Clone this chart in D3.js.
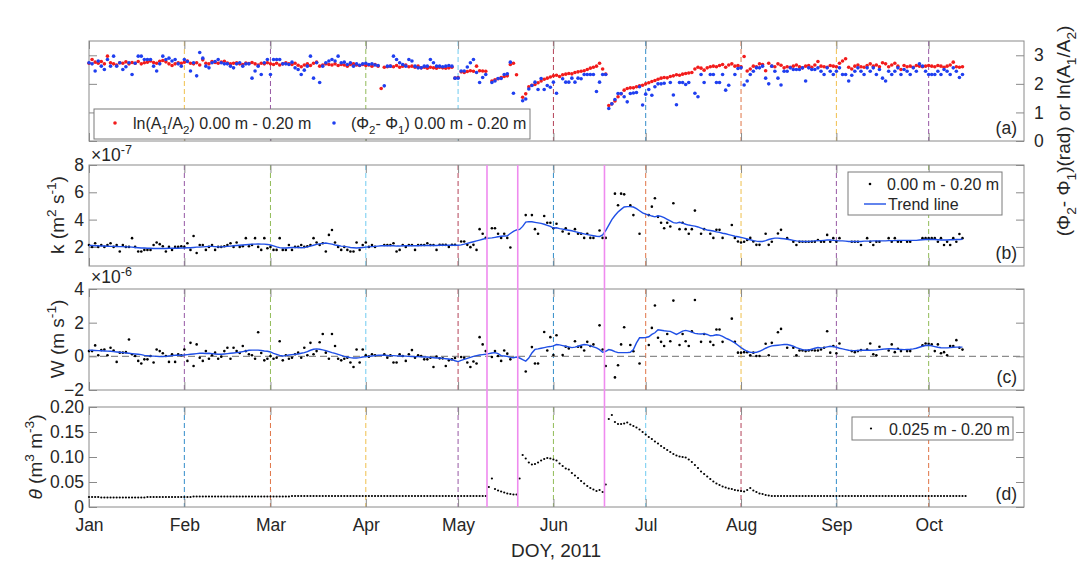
<!DOCTYPE html>
<html><head><meta charset="utf-8">
<script src="https://cdn.jsdelivr.net/npm/d3@7"></script>
<style>
body{margin:0;background:#fff}
text{font-family:"Liberation Sans",Arial,Helvetica,sans-serif;fill:#262626}
</style>
</head><body>
<svg id="chart" width="1084" height="561"></svg>
<script>
// ---------- DATA (one value per day, DOY 1 .. 286; null = no data) ----------
const lnA = [
 2.72,2.85,2.76,2.72,2.78,2.70,2.97,2.74,2.70,2.66,2.74,2.72,2.77,2.70,2.75,2.72,2.78,2.70,2.74,2.76,2.80,2.75,2.72,2.79,2.82,2.77,2.70,2.64,2.70,2.74,2.72,
 2.76,2.80,2.72,2.70,2.74,2.66,2.84,2.72,2.70,2.78,2.75,2.72,2.76,2.79,2.73,2.70,2.72,2.74,2.70,2.68,2.73,2.71,2.75,2.70,2.66,2.72,2.70,2.74,
 2.70,2.68,2.72,2.66,2.70,2.74,2.70,2.68,2.72,2.65,2.60,2.66,2.70,2.64,2.72,2.76,2.62,2.66,2.70,2.68,2.66,2.70,2.64,2.68,2.66,2.62,2.68,2.70,2.66,2.64,2.68,
 2.64,2.66,2.62,2.68,2.62,1.84,2.58,2.60,2.62,2.60,2.64,2.58,2.62,2.66,2.60,2.62,2.58,2.62,2.56,2.58,2.55,2.58,2.56,2.55,2.58,2.56,2.55,2.56,2.58,2.20,
 2.22,2.42,2.40,2.43,2.46,2.44,2.62,2.46,2.45,2.44,null,2.10,2.14,2.18,2.22,2.26,2.28,2.68,2.72,2.32,null,1.53,1.65,1.90,1.95,1.98,2.04,2.10,2.16,2.20,2.24,
 2.28,2.30,2.26,2.32,2.34,2.36,2.35,2.40,2.42,2.44,2.46,2.50,2.55,2.58,2.62,2.72,2.52,2.34,1.24,1.30,1.40,1.55,1.65,1.78,1.84,1.86,1.86,1.90,1.93,1.95,
 2.00,2.04,2.08,2.12,2.16,2.20,2.22,2.21,2.26,2.28,2.32,2.30,2.34,2.36,2.38,2.40,2.52,2.58,2.55,2.48,2.56,2.60,2.62,2.60,2.64,2.68,2.58,2.66,2.70,2.62,2.64,
 2.60,2.96,2.45,2.52,2.62,2.60,2.70,2.68,2.46,2.72,2.62,2.60,2.70,2.65,2.56,2.60,2.58,2.62,2.66,2.60,2.56,2.62,2.64,2.58,2.66,2.78,2.62,2.60,2.58,2.64,2.62,
 2.60,2.72,2.80,2.88,2.58,2.52,2.62,2.66,2.60,2.58,2.64,2.70,2.62,2.66,2.60,2.74,2.70,2.60,2.66,2.72,2.62,2.50,2.64,2.60,2.62,2.58,2.64,2.62,2.60,2.62,
 2.64,2.62,2.60,2.64,2.62,2.58,2.62,2.66,2.76,2.60,2.58,2.60,null
];
const dPhi = [
 2.74,2.70,2.45,2.80,2.62,2.50,2.85,2.62,2.97,2.62,2.74,2.50,2.60,2.74,2.33,2.72,2.97,2.97,2.85,2.85,2.85,2.62,2.45,2.70,2.97,2.85,2.90,2.80,2.85,2.70,2.62,
 2.85,2.78,2.45,2.74,2.28,3.10,2.90,2.62,2.56,2.74,2.78,2.85,2.74,2.70,2.70,2.62,2.56,2.70,2.74,2.62,2.70,2.70,2.20,2.45,2.62,2.33,2.74,2.85,
 2.33,2.85,2.85,2.85,2.70,2.70,2.68,2.76,2.56,2.50,2.33,2.48,2.62,2.97,2.20,2.74,2.05,2.62,2.74,2.80,2.85,2.80,2.97,2.74,2.76,2.68,2.74,2.62,2.70,2.65,2.70,
 2.72,2.68,2.70,2.66,2.64,null,1.93,2.62,2.62,2.97,2.85,2.74,2.68,2.62,2.85,2.80,2.62,2.56,2.56,2.62,2.62,2.85,2.74,2.62,2.62,2.60,2.62,2.64,2.62,2.20,
 2.20,2.45,2.45,2.59,2.74,2.85,2.40,2.05,2.22,2.33,null,2.05,2.10,2.19,2.19,2.33,2.35,2.76,1.67,null,null,1.41,1.47,1.82,1.94,2.06,1.80,2.19,1.80,1.94,1.88,
 2.06,1.67,null,2.18,2.06,2.06,2.20,2.06,2.20,2.18,2.33,2.33,2.33,2.33,1.73,2.06,2.33,2.33,1.14,1.30,1.45,1.66,1.66,1.55,1.37,1.66,1.68,1.70,1.90,1.26,
 1.64,1.80,1.60,1.90,2.00,2.00,2.02,null,2.05,1.61,1.27,2.05,2.05,1.98,2.05,null,1.67,1.55,2.33,2.05,null,2.33,2.33,2.05,2.05,2.33,1.78,1.95,null,2.33,2.54,
 2.56,1.96,2.10,2.33,2.44,2.56,2.56,2.62,2.20,2.00,2.62,2.44,2.20,1.96,2.44,2.44,2.56,2.50,2.50,2.50,2.56,2.10,2.56,2.50,2.50,2.56,2.44,2.33,2.56,2.44,2.33,
 2.44,2.56,2.33,2.33,2.10,2.30,2.44,2.56,2.44,2.33,2.56,2.44,2.56,2.33,2.50,2.20,2.10,2.44,2.33,2.44,2.56,2.33,2.50,2.44,2.33,2.56,2.44,2.70,2.62,2.44,
 2.33,2.33,2.33,2.44,2.33,2.50,2.44,2.33,2.56,2.44,2.22,2.33,null
];
// k (x 1e-7 m2 s-1)
const kPoints = [
 2.14,2.00,2.27,2.00,2.14,2.00,2.14,2.27,2.00,2.14,1.66,2.14,2.00,2.00,2.64,2.00,1.66,1.66,1.78,1.78,1.78,2.14,2.32,2.20,2.05,1.66,2.00,1.78,2.00,2.00,2.05,
 2.00,2.27,1.78,2.80,1.55,2.14,2.14,1.78,2.00,2.14,1.78,2.00,2.00,2.05,2.14,2.27,2.00,2.32,2.00,2.05,2.64,2.05,2.14,2.64,2.00,1.78,2.64,1.90,
 2.00,1.78,1.78,2.64,1.78,1.78,2.14,1.78,2.00,2.00,2.14,2.00,2.05,2.14,2.64,2.32,2.14,2.27,1.66,2.88,3.24,2.32,2.00,1.78,2.00,1.78,1.66,1.66,2.32,1.78,2.14,
 2.32,2.00,2.14,2.00,null,null,2.14,2.14,2.14,2.27,1.66,1.78,2.14,2.00,2.14,2.14,1.78,2.14,2.14,2.14,2.27,2.14,2.14,1.78,2.15,2.15,2.15,2.00,2.15,2.15,
 null,2.39,2.39,2.15,1.98,2.15,1.78,3.30,2.96,2.66,null,3.37,3.37,2.96,2.66,2.96,2.66,1.96,null,null,null,null,4.33,null,4.33,3.30,2.96,null,4.26,3.77,3.77,
 3.37,3.70,null,3.13,3.37,2.96,null,3.30,2.96,2.96,2.66,2.96,2.66,2.66,null,3.20,2.66,2.66,null,null,5.90,5.05,5.90,5.85,null,5.05,4.33,null,2.96,null,
 null,4.33,4.95,5.56,4.20,3.77,3.37,3.77,3.49,5.20,null,3.30,3.77,3.30,2.96,3.30,4.66,null,2.96,3.30,null,2.96,2.66,3.25,3.25,2.66,null,null,3.60,2.66,2.39,
 2.32,2.38,2.50,2.66,2.39,2.15,2.15,null,2.96,2.15,2.38,null,2.98,3.25,null,2.64,null,2.38,2.14,2.38,2.38,2.38,2.38,2.38,2.38,2.50,2.38,2.38,2.88,2.38,2.64,
 2.38,2.64,null,null,null,2.38,2.38,2.38,2.14,null,2.64,2.38,2.14,2.38,2.38,null,null,2.64,2.38,2.64,2.38,2.38,null,2.38,2.38,null,null,null,2.64,2.64,
 2.64,2.64,2.64,2.38,2.64,2.14,2.38,2.14,2.64,2.38,2.95,2.64,null
];
const kTrend = [
 2.10,2.10,2.08,2.08,2.06,2.06,2.05,2.04,2.04,2.03,2.02,2.02,2.00,2.00,1.98,1.96,1.94,1.92,1.92,1.90,1.90,1.88,1.88,1.88,1.88,1.88,1.90,1.90,1.90,1.90,1.92,
 1.92,1.94,1.94,1.96,1.98,1.98,2.00,2.02,2.04,2.04,2.02,2.00,2.00,2.02,2.04,2.06,2.08,2.10,2.12,2.14,2.16,2.18,2.20,2.20,2.22,2.20,2.20,2.18,
 2.14,2.08,2.00,1.95,1.92,1.92,1.94,1.96,1.96,1.96,1.94,1.96,2.00,2.06,2.12,2.18,2.22,2.26,2.28,2.24,2.20,2.14,2.10,2.06,2.04,2.00,1.96,1.94,1.92,1.94,1.96,
 1.98,2.00,2.02,2.04,2.06,2.08,2.08,2.08,2.08,2.08,2.06,2.06,2.08,2.08,2.08,2.08,2.08,2.08,2.10,2.10,2.10,2.10,2.10,2.10,2.12,2.12,2.12,2.12,2.12,2.12,
 2.12,2.15,2.20,2.26,2.32,2.38,2.44,2.50,2.56,2.62,2.64,2.66,2.70,2.74,2.78,2.80,2.82,2.98,3.14,3.24,3.28,3.50,3.82,3.85,3.84,3.80,3.76,3.72,3.66,3.58,3.50,
 3.38,3.40,3.34,3.30,3.26,3.22,3.18,3.12,3.06,3.00,2.95,2.90,2.86,2.82,2.78,2.76,2.88,3.20,3.60,4.00,4.30,4.55,4.75,4.92,4.95,4.95,4.92,4.80,4.65,4.50,
 4.40,4.34,4.26,4.20,4.28,4.24,4.14,4.02,3.90,3.78,3.74,3.80,3.74,3.66,3.60,3.56,3.52,3.46,3.38,3.30,3.24,3.20,3.16,3.10,3.06,3.00,2.96,2.90,2.84,2.78,2.74,
 2.70,2.64,2.58,2.52,2.46,2.42,2.40,2.40,2.46,2.54,2.60,2.64,2.64,2.62,2.60,2.56,2.52,2.48,2.44,2.42,2.40,2.40,2.40,2.42,2.44,2.46,2.46,2.48,2.50,2.50,2.48,
 2.46,2.44,2.44,2.42,2.40,2.40,2.40,2.40,2.40,2.42,2.42,2.42,2.44,2.44,2.44,2.44,2.44,2.46,2.46,2.46,2.48,2.48,2.48,2.48,2.48,2.48,2.48,2.50,2.52,2.54,
 2.54,2.54,2.54,2.52,2.50,2.50,2.50,2.52,2.52,2.54,2.54,2.56,null
];
// W (x 1e-6 m s-1)
const wPoints = [
 0.31,0.31,0.65,0.06,0.37,0.41,0.06,0.51,0.35,-0.33,0.22,0.22,0.25,1.00,0.12,0.02,-0.27,-0.43,-0.18,-0.18,0.02,-0.37,0.41,0.31,0.18,0.02,-0.33,0.12,-0.33,0.12,0.06,
 0.41,-0.27,0.80,-0.57,0.71,-0.08,-0.27,0.31,-0.14,0.06,0.22,-0.14,-0.02,0.31,0.51,-0.14,0.51,0.31,0.20,0.61,0.31,0.12,0.06,-0.14,1.43,0.20,-0.24,-0.14,
 0.02,-0.14,-0.08,0.90,-0.24,0.06,-0.14,-0.08,0.12,0.22,-0.08,0.51,0.06,0.80,0.12,0.31,0.84,1.33,0.22,-0.14,1.33,0.61,-0.14,-0.24,-0.14,-0.08,-0.37,-0.63,0.41,-0.37,0.41,
 0.06,-0.02,0.12,0.06,null,null,0.12,-0.08,0.06,-0.37,-0.37,0.12,0.02,-0.27,0.12,0.37,-0.08,0.06,0.02,-0.18,-0.18,-0.08,-0.63,-0.02,-0.12,-0.12,-0.57,-0.24,-0.18,-0.10,
 null,-0.04,-0.08,-0.37,-0.63,-0.31,-0.43,1.14,0.71,0.31,null,-0.04,0.31,0.02,-0.27,0.35,0.16,-0.18,null,null,null,null,-0.90,null,0.55,-0.43,-0.43,null,1.45,0.35,1.14,
 0.08,1.25,null,0.08,0.57,0.47,null,0.90,0.57,0.55,0.35,0.86,0.61,0.71,null,1.84,0.41,-0.57,null,null,-1.25,-0.53,0.71,1.73,null,0.67,0.30,null,-0.43,null,
 null,0.67,1.69,3.02,1.10,0.86,0.61,1.33,0.90,3.31,null,0.67,1.33,0.90,0.61,1.49,3.35,null,0.86,1.33,null,0.86,0.67,1.59,1.59,0.86,null,null,2.24,0.86,0.22,
 0.22,0.25,0.25,0.06,0.22,0.02,0.02,null,0.75,0.06,0.80,null,1.43,1.63,null,0.51,null,0.51,0.06,0.35,0.35,0.31,0.35,0.37,0.35,0.35,0.41,0.51,1.49,0.22,0.61,
 0.18,0.76,null,null,null,0.31,0.25,0.31,0.37,null,0.41,0.76,0.12,0.06,0.57,null,null,0.35,0.71,0.25,0.45,0.31,null,0.31,0.31,null,null,null,0.65,0.76,
 0.75,0.71,0.31,0.71,0.18,0.25,0.06,0.61,0.61,0.96,0.51,0.40,null
];
const wTrend = [
 0.37,0.36,0.35,0.34,0.33,0.32,0.31,0.30,0.28,0.26,0.24,0.22,0.20,0.18,0.16,0.14,0.12,0.10,0.06,0.04,0.02,0.01,0.00,-0.02,-0.01,0.00,0.02,0.04,0.06,0.06,0.06,
 0.08,0.10,0.12,0.14,0.16,0.18,0.18,0.17,0.18,0.16,0.14,0.12,0.12,0.14,0.16,0.18,0.20,0.22,0.24,0.28,0.32,0.36,0.37,0.37,0.37,0.35,0.32,0.30,
 0.26,0.18,0.12,0.06,0.02,0.04,0.08,0.10,0.12,0.14,0.18,0.22,0.28,0.36,0.42,0.44,0.42,0.38,0.34,0.28,0.22,0.18,0.12,0.06,0.00,-0.04,-0.08,-0.10,-0.10,-0.08,-0.04,
 -0.02,0.00,0.02,0.04,0.06,0.06,0.06,0.05,0.04,0.04,0.03,0.02,0.02,0.01,0.00,-0.01,-0.02,-0.02,-0.03,-0.04,-0.04,-0.06,-0.08,-0.10,-0.10,-0.12,-0.14,-0.16,-0.20,-0.26,
 -0.31,-0.24,-0.18,-0.12,-0.06,0.00,0.04,0.08,0.10,0.12,0.16,0.20,0.22,0.16,0.04,0.02,0.00,-0.06,-0.08,-0.04,-0.10,-0.20,-0.28,-0.10,0.20,0.41,0.44,0.48,0.52,0.56,0.58,
 0.62,0.70,0.68,0.64,0.60,0.56,0.52,0.55,0.60,0.66,0.70,0.68,0.62,0.56,0.50,0.40,0.24,0.30,0.40,0.36,0.28,0.22,0.22,0.22,0.22,0.24,0.40,0.80,1.10,1.10,
 1.12,1.16,1.30,1.40,1.58,1.55,1.52,1.50,1.48,1.40,1.30,1.40,1.50,1.54,1.50,1.44,1.36,1.34,1.33,1.35,1.30,1.22,1.24,1.28,1.26,1.18,1.08,1.00,0.90,0.80,0.66,
 0.52,0.40,0.30,0.24,0.22,0.24,0.30,0.38,0.48,0.56,0.62,0.64,0.66,0.68,0.70,0.70,0.66,0.60,0.52,0.46,0.40,0.38,0.38,0.42,0.48,0.52,0.50,0.52,0.56,0.60,0.58,
 0.54,0.48,0.44,0.40,0.36,0.34,0.34,0.35,0.36,0.36,0.36,0.36,0.37,0.38,0.40,0.42,0.44,0.45,0.45,0.44,0.42,0.41,0.40,0.41,0.42,0.44,0.48,0.54,0.60,0.64,
 0.66,0.62,0.58,0.54,0.51,0.50,0.50,0.52,0.54,0.55,0.55,0.55,null
];
// theta (m3 m-3), 0.025 m - 0.20 m
const theta = [
 0.020,0.020,0.020,0.020,0.019,0.019,0.019,0.019,0.019,0.019,0.019,0.019,0.019,0.019,0.019,0.019,0.019,0.019,0.019,0.020,0.020,0.020,0.020,0.020,0.020,0.020,0.020,0.020,0.020,0.020,0.020,
 0.020,0.020,0.020,0.021,0.021,0.021,0.021,0.021,0.021,0.021,0.021,0.021,0.021,0.021,0.021,0.021,0.021,0.021,0.021,0.021,0.021,0.021,0.021,0.021,0.021,0.021,0.021,0.021,
 0.021,0.021,0.021,0.021,0.021,0.021,0.021,0.022,0.022,0.022,0.022,0.022,0.022,0.022,0.022,0.022,0.022,0.022,0.022,0.022,0.022,0.022,0.022,0.022,0.022,0.022,0.022,0.022,0.022,0.022,0.022,
 0.022,0.022,0.022,0.022,0.022,0.022,0.022,0.022,0.022,0.022,0.022,0.022,0.022,0.022,0.022,0.022,0.022,0.022,0.022,0.022,0.022,0.022,0.022,0.022,0.022,0.022,0.022,0.022,0.022,0.022,
 0.022,0.022,0.022,0.022,0.022,0.022,0.022,0.022,0.022,0.022,0.040,0.057,0.036,0.033,0.031,0.029,0.027,0.026,0.025,0.025,0.057,0.104,0.097,0.089,0.085,0.086,0.089,0.093,0.096,0.098,0.097,
 0.095,0.093,0.087,0.082,0.077,0.075,0.068,0.063,0.058,0.052,0.047,0.042,0.038,0.035,0.032,0.034,0.030,0.045,0.176,0.184,0.170,0.166,0.166,0.167,0.169,0.165,0.162,0.159,0.155,0.150,
 0.145,0.140,0.136,0.131,0.127,0.122,0.118,0.114,0.110,0.106,0.103,0.101,0.100,0.099,0.095,0.090,0.084,0.078,0.071,0.066,0.061,0.056,0.051,0.047,0.044,0.041,0.039,0.037,0.036,0.034,0.033,
 0.032,0.031,0.034,0.038,0.033,0.030,0.027,0.026,0.024,0.023,0.022,0.022,0.022,0.022,0.022,0.022,0.022,0.022,0.022,0.022,0.022,0.022,0.022,0.022,0.022,0.022,0.022,0.022,0.022,0.022,0.022,
 0.022,0.022,0.022,0.022,0.022,0.022,0.022,0.022,0.022,0.022,0.022,0.022,0.022,0.022,0.022,0.022,0.022,0.022,0.022,0.022,0.022,0.022,0.022,0.022,0.022,0.022,0.022,0.022,0.022,0.022,
 0.022,0.022,0.022,0.022,0.022,0.022,0.022,0.022,0.022,0.022,0.022,0.022,0.022
];
const monthLabels = ["Jan","Feb","Mar","Apr","May","Jun","Jul","Aug","Sep","Oct"];
const monthDOY = [1,32,60,91,121,152,182,213,244,274];
const eventDOY = [130.4,140.4,168.6];
const ticksA = [0,1,2,3];
const ticksB = [2,4,6,8];
const ticksC = [-2,0,2,4];
const ticksD = [0,0.05,0.10,0.15,0.20];
const tickLabelsD = ["0","0.05","0.10","0.15","0.20"];

// ---------- LAYOUT ----------
const palette = ["#0072BD","#D95319","#EDB120","#7E2F8E","#77AC30","#4DBEEE","#A2142F"];
const FRAME = "#8a8a8a";
const TICKF = 17.5;
const svg = d3.select("#chart");
svg.append("rect").attr("width",1084).attr("height",561).attr("fill","#fff");
const L = 89, R = 1024;
const x = d3.scaleLinear().domain([1,305]).range([L,R]);

const panels = {
  a:{top:41,bottom:141,dom:[0,3.5],ticks:ticksA,cStart:2,tag:"(a)"},
  b:{top:165,bottom:266,dom:[0.6,8],ticks:ticksB,cStart:3,tag:"(b)"},
  c:{top:289,bottom:390,dom:[-2,4],ticks:ticksC,cStart:3,tag:"(c)"},
  d:{top:407,bottom:507,dom:[0,0.2],ticks:ticksD,cStart:0,tag:"(d)"}
};
Object.values(panels).forEach(p=>{ p.y = d3.scaleLinear().domain(p.dom).range([p.bottom,p.top]); });

function rich(textSel, parts, size){
  let shift = 0;
  parts.forEach(([t,m])=>{
    const target = m==="sub" ? size*0.32 : (m==="sup" ? -size*0.42 : 0);
    const ts = textSel.append("tspan").text(t).attr("dy", target-shift);
    if(m==="sub"||m==="sup") ts.attr("font-size", size*0.72);
    if(m==="it") ts.attr("font-style","italic");
    shift = target;
  });
  return textSel;
}
function styleAxis(g, showLabels){
  g.attr("font-size",null).attr("font-family",null);
  g.select(".domain").remove();
  g.selectAll(".tick line").attr("stroke",FRAME);
  g.selectAll(".tick text").attr("font-size",TICKF).attr("fill","#262626");
  if(!showLabels) g.selectAll(".tick text").remove();
}

Object.entries(panels).forEach(([key,p])=>{
  const g = svg.append("g");
  monthDOY.slice(1).forEach((d,i)=>{
    g.append("line").attr("x1",x(d)).attr("x2",x(d)).attr("y1",p.top).attr("y2",p.bottom)
      .attr("stroke",palette[(p.cStart+i)%7]).attr("stroke-width",1).attr("stroke-dasharray","5,3")
      .attr("opacity",0.8);
  });
  g.append("rect").attr("x",L).attr("y",p.top).attr("width",R-L).attr("height",p.bottom-p.top)
    .attr("fill","none").attr("stroke",FRAME).attr("stroke-width",1);
  const xb = g.append("g").attr("transform",`translate(0,${p.bottom})`)
    .call(d3.axisBottom(x).tickValues(monthDOY).tickFormat((d,i)=>monthLabels[i]).tickSizeInner(-8).tickSizeOuter(0).tickPadding(12));
  styleAxis(xb, key==="d");
  const xt = g.append("g").attr("transform",`translate(0,${p.top})`)
    .call(d3.axisTop(x).tickValues(monthDOY).tickSizeInner(-8).tickSizeOuter(0));
  styleAxis(xt,false);
  if(key==="a"){
    const yl = g.append("g").attr("transform",`translate(${L},0)`)
      .call(d3.axisLeft(p.y).tickValues(p.ticks).tickSizeInner(-8).tickSizeOuter(0));
    styleAxis(yl,false);
    const yr = g.append("g").attr("transform",`translate(${R},0)`)
      .call(d3.axisRight(p.y).tickValues(p.ticks).tickFormat(d3.format("d")).tickSizeInner(-8).tickSizeOuter(0).tickPadding(10));
    styleAxis(yr,true);
  } else {
    const fmt = key==="d" ? ((d,i)=>tickLabelsD[i]) : d3.format("d");
    const yl = g.append("g").attr("transform",`translate(${L},0)`)
      .call(d3.axisLeft(p.y).tickValues(p.ticks).tickFormat(fmt).tickSizeInner(-8).tickSizeOuter(0).tickPadding(5));
    styleAxis(yl,true);
    const yr = g.append("g").attr("transform",`translate(${R},0)`)
      .call(d3.axisRight(p.y).tickValues(p.ticks).tickSizeInner(-8).tickSizeOuter(0));
    styleAxis(yr,false);
  }
  g.append("text").attr("x",1017).attr("y",p.bottom-7).attr("text-anchor","end")
    .attr("font-size",TICKF).text(p.tag);
  p.g = g;
});

panels.c.g.append("line").attr("x1",L).attr("x2",R).attr("y1",panels.c.y(0)).attr("y2",panels.c.y(0))
  .attr("stroke","#8c8c8c").attr("stroke-width",1.4).attr("stroke-dasharray","7,4");

function dots(p, arr, color, r){
  p.g.append("g").selectAll("circle")
    .data(arr.map((v,i)=>({d:i+1,v})).filter(o=>o.v!==null))
    .join("circle").attr("cx",o=>x(o.d)).attr("cy",o=>p.y(o.v)).attr("r",r).attr("fill",color);
}
function trend(p, arr){
  const line = d3.line().defined(o=>o.v!==null).x(o=>x(o.d)).y(o=>p.y(o.v));
  p.g.append("path").datum(arr.map((v,i)=>({d:i+1,v})))
    .attr("d",line).attr("fill","none").attr("stroke","#1f4fe6").attr("stroke-width",1.4);
}
const RED="#f21c1c", BLUE="#1f3ff0";
dots(panels.a, lnA, RED, 1.8);
dots(panels.a, dPhi, BLUE, 1.8);
dots(panels.b, kPoints, "#000", 1.3);
trend(panels.b, kTrend);
dots(panels.c, wPoints, "#000", 1.3);
trend(panels.c, wTrend);
dots(panels.d, theta, "#000", 1.1);

eventDOY.forEach(d=>{
  svg.append("line").attr("x1",x(d)).attr("x2",x(d)).attr("y1",panels.b.top).attr("y2",panels.d.bottom)
    .attr("stroke","#ef8bef").attr("stroke-width",1.6);
});

const LEG = 16;
function legendBox(x0,y0,w,h){
  svg.append("rect").attr("x",x0).attr("y",y0).attr("width",w).attr("height",h)
    .attr("fill","#fff").attr("stroke","#7a7a7a").attr("stroke-width",1);
}
legendBox(94,109,436,30);
svg.append("circle").attr("cx",115).attr("cy",123).attr("r",1.8).attr("fill",RED);
rich(svg.append("text").attr("x",133).attr("y",129).attr("font-size",LEG),
  [["ln(A"],["1","sub"],["/A"],["2","sub"],[") 0.00 m - 0.20 m"]], LEG);
svg.append("circle").attr("cx",334).attr("cy",123).attr("r",1.8).attr("fill",BLUE);
rich(svg.append("text").attr("x",351).attr("y",129).attr("font-size",LEG),
  [["(\u03A6"],["2","sub"],["- \u03A6"],["1","sub"],[") 0.00 m - 0.20 m"]], LEG);

legendBox(848,172,154,43);
svg.append("circle").attr("cx",870).attr("cy",184).attr("r",1.3).attr("fill","#000");
svg.append("text").attr("x",887).attr("y",190).attr("font-size",LEG).text("0.00 m - 0.20 m");
svg.append("line").attr("x1",864).attr("x2",886).attr("y1",204).attr("y2",204).attr("stroke","#1f4fe6").attr("stroke-width",1.4);
svg.append("text").attr("x",888).attr("y",210).attr("font-size",LEG).text("Trend line");

legendBox(852,417,161,23);
svg.append("circle").attr("cx",871).attr("cy",428.5).attr("r",1.1).attr("fill","#000");
svg.append("text").attr("x",889).attr("y",434.5).attr("font-size",LEG).text("0.025 m - 0.20 m");

rich(svg.append("text").attr("x",91).attr("y",161).attr("font-size",TICKF),[["\u00D710"],["-7","sup"]],TICKF);
rich(svg.append("text").attr("x",91).attr("y",283).attr("font-size",TICKF),[["\u00D710"],["-6","sup"]],TICKF);

const LAB = 19;
function ylabel(xp, yp, parts){
  rich(svg.append("text").attr("transform",`translate(${xp},${yp}) rotate(-90)`)
    .attr("text-anchor","middle").attr("font-size",LAB), parts, LAB);
}
ylabel(64, 215, [["k (m"],["2","sup"],[" s"],["-1","sup"],[")"]]);
ylabel(64, 339, [["W (m s"],["-1","sup"],[")"]]);
ylabel(42, 457, [["\u03B8","it"],[" (m"],["3","sup"],[" m"],["-3","sup"],[")"]]);
ylabel(1070, 131, [["(\u03A6"],["2","sub"],["- \u03A6"],["1","sub"],[")(rad) or ln(A"],["1","sub"],["/A"],["2","sub"],[")"]]);

svg.append("text").attr("x",556).attr("y",557).attr("text-anchor","middle").attr("font-size",LAB).text("DOY, 2011");
</script>
</body></html>
